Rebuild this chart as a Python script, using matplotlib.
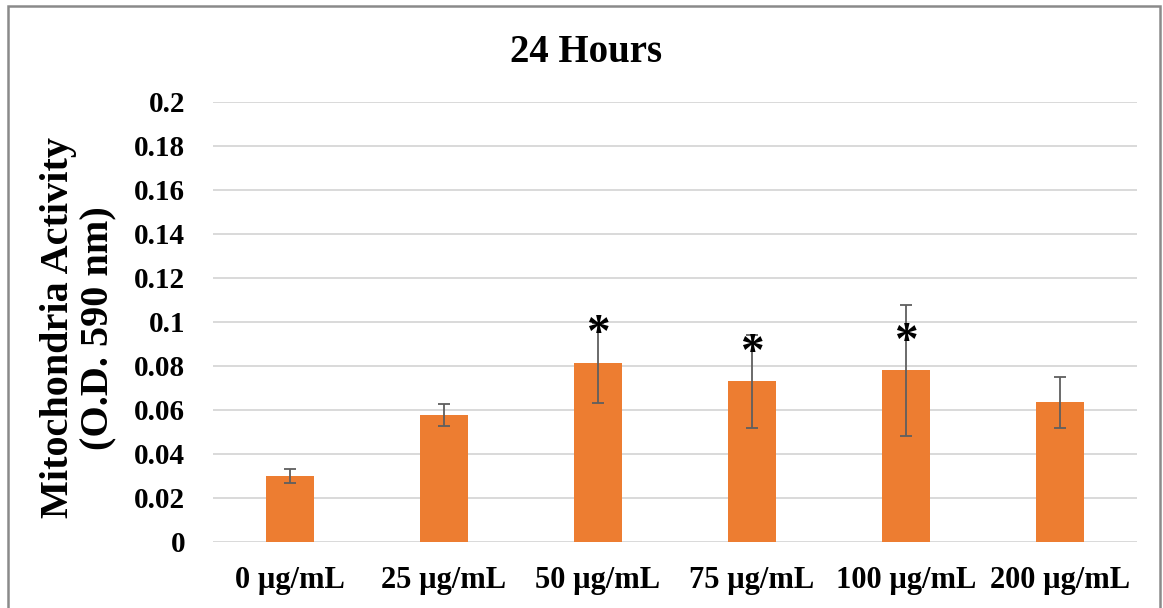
import matplotlib
matplotlib.use('Agg')
import matplotlib.pyplot as plt
from matplotlib.patches import Rectangle
from matplotlib.transforms import offset_copy

# mitochondrial activity after 24 h, mean and error per dose
doses = ['0 µg/mL', '25 µg/mL', '50 µg/mL', '75 µg/mL', '100 µg/mL', '200 µg/mL']
activity = [0.0300, 0.0577, 0.0815, 0.0730, 0.0780, 0.0635]
errors = [0.0033, 0.0051, 0.0182, 0.0212, 0.0296, 0.0117]
# significance marks: which doses, and the height they sit at
star_idx = [2, 3, 4]
star_y = [0.0986, 0.0900, 0.0951]

yticks = [0, 0.02, 0.04, 0.06, 0.08, 0.1, 0.12, 0.14, 0.16, 0.18, 0.2]
yticklabels = ['0', '0.02', '0.04', '0.06', '0.08', '0.1', '0.12', '0.14', '0.16', '0.18', '0.2']

serif = 'Liberation Serif'
W, H = 1163, 608

fig = plt.figure(figsize=(W / 100, H / 100), dpi=100)
ax = fig.add_axes([213 / W, (H - 542) / H, (1137 - 213) / W, (542 - 102) / H])

x = list(range(len(doses)))
ax.bar(x, activity, width=0.31, color='#ED7D31', zorder=2)
ax.errorbar(x, activity, yerr=errors, fmt='none', ecolor='#5f5f5f',
            elinewidth=1.3, capsize=4.5, capthick=1.3, zorder=3)

# the asterisk glyph sits above the text centre, so pull it down a bit
star_tr = offset_copy(ax.transData, fig=fig, y=-7, units='points')
for i, yv in zip(star_idx, star_y):
    ax.text(x[i], yv, '*', ha='center', va='center', fontsize=34,
            fontweight='bold', family=serif, color='black', zorder=4,
            transform=star_tr)

ax.set_xlim(-0.5, len(doses) - 0.5)
ax.set_ylim(0, 0.2)
ax.set_yticks(yticks)
ax.set_yticklabels(yticklabels)
ax.set_xticks(x)
ax.set_xticklabels(doses)
ax.yaxis.grid(True, color='#d9d9d9', linewidth=1.4, zorder=0)
ax.set_axisbelow(True)
for s in ax.spines.values():
    s.set_visible(False)
ax.tick_params(axis='y', length=0, pad=20, labelsize=21)
ax.tick_params(axis='x', length=0, pad=17, labelsize=22)
for lab in ax.get_xticklabels() + ax.get_yticklabels():
    lab.set_family(serif)
    lab.set_fontweight('bold')

fig.text(586 / W, 1 - 52 / H, '24 Hours', ha='center', va='center',
         fontsize=28, fontweight='bold', family=serif)
fig.text(79 / W, 1 - 328 / H, 'Mitochondria Activity\n(O.D. 590 nm)',
         rotation=90, ha='center', va='center', fontsize=29,
         fontweight='bold', family=serif, linespacing=1.12)

# chart border
fig.patches.append(Rectangle((7.5 / W, -0.05), (1160 - 7.5) / W, 1.05 - 6 / H,
                             transform=fig.transFigure, fill=False,
                             edgecolor='#8a8a8a', linewidth=1.8))

fig.savefig('out.png', dpi=100)
